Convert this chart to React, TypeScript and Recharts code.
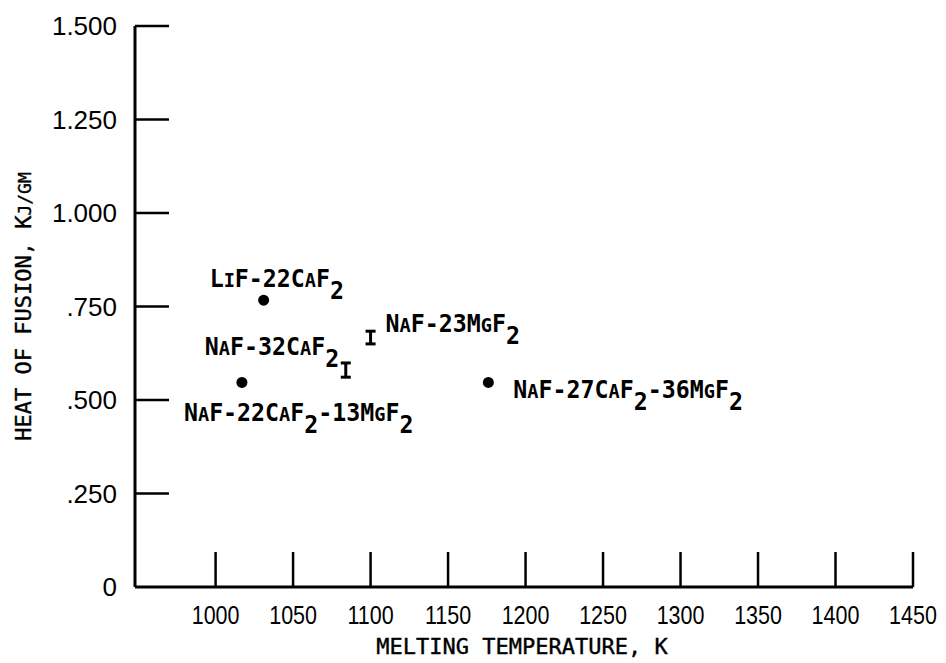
import { ScatterChart, Scatter, XAxis, YAxis, ErrorBar, Label } from "recharts";

const compositions = [
  "LiF-22CaF2",
  "NaF-22CaF2-13MgF2",
  "NaF-32CaF2",
  "NaF-23MgF2",
  "NaF-27CaF2-36MgF2",
];
const meltingTempK = [1031, 1017, 1084, 1100, 1176];
const heatOfFusion = [0.767, 0.547, 0.58, 0.667, 0.547];
const heatSpread = [0, 0, 0.019, 0.017, 0];
const markerKind = ["dot", "dot", "range", "range", "dot"];

const xTicks = [1000, 1050, 1100, 1150, 1200, 1250, 1300, 1350, 1400, 1450];
const yTicks = [0, 0.25, 0.5, 0.75, 1, 1.25, 1.5];
const yTickLabels = ["0", ".250", ".500", ".750", "1.000", "1.250", "1.500"];

// where each label sits relative to its marker (left edge, baseline)
const labelOffset: Record<string, [number, number]> = {
  "LiF-22CaF2": [-54, -13],
  "NaF-22CaF2-13MgF2": [-58, 39],
  "NaF-32CaF2": [-141, -15],
  "NaF-23MgF2": [15, -6],
  "NaF-27CaF2-36MgF2": [25, 16],
};

const points = compositions.map((name, i) => ({
  name,
  x: meltingTempK[i],
  y: heatOfFusion[i],
  err: heatSpread[i],
  kind: markerKind[i],
}));
const dotPoints = points.filter((p) => p.kind === "dot");
const rangePoints = points.filter((p) => p.kind === "range");

const MONO = "'DejaVu Sans Mono', 'Liberation Mono', monospace";
const SANS = "'Liberation Sans', Arial, sans-serif";

// lower case letters drawn as small caps, "2" after F drops to a subscript
function formulaSpans(s: string, small: number, drop: number) {
  const out: any[] = [];
  let down = false;
  for (let i = 0; i < s.length; i++) {
    const c = s[i];
    if (c === "2" && s[i - 1] === "F") {
      out.push(
        <tspan key={i} dy={drop}>
          2
        </tspan>
      );
      down = true;
      continue;
    }
    const lower = c !== c.toUpperCase();
    out.push(
      <tspan key={i} dy={down ? -drop : undefined} fontSize={lower ? small : undefined}>
        {c.toUpperCase()}
      </tspan>
    );
    down = false;
  }
  return out;
}

const FormulaLabel = ({ cx, cy, name }: any) => {
  const off = labelOffset[name] || [10, 0];
  return (
    <g transform={`translate(${cx + off[0]},${cy + off[1]}) scale(0.93,1)`}>
      <text x={0} y={0} fontFamily={MONO} fontSize={25} fontWeight="bold" fill="#000">
        {formulaSpans(name, 20, 12)}
      </text>
    </g>
  );
};

const DotShape = (props: any) => (
  <g>
    <circle cx={props.cx} cy={props.cy} r={5.5} fill="#000" />
    <FormulaLabel cx={props.cx} cy={props.cy} name={props.payload.name} />
  </g>
);

const RangeShape = (props: any) => (
  <FormulaLabel cx={props.cx} cy={props.cy} name={props.payload.name} />
);

const XTick = ({ x, y, payload }: any) => (
  <g>
    <line x1={x} y1={y} x2={x} y2={y - 35} stroke="#000" strokeWidth={2.5} />
    <g transform={`translate(${x},${y + 37}) scale(0.86,1)`}>
      <text x={0} y={0} textAnchor="middle" fontFamily={SANS} fontSize={25} fill="#000">
        {payload.value}
      </text>
    </g>
  </g>
);

const YTick = ({ x, y, payload, index }: any) => (
  <g>
    {payload.value !== 0 && (
      <line x1={x} y1={y} x2={x + 34} y2={y} stroke="#000" strokeWidth={2.5} />
    )}
    <text x={x - 18} y={y} dy="0.36em" textAnchor="end" fontFamily={SANS} fontSize={26} fill="#000">
      {yTickLabels[yTicks.indexOf(payload.value)] ?? yTickLabels[index]}
    </text>
  </g>
);

const XTitle = ({ viewBox }: any) => (
  <text
    x={viewBox.x + viewBox.width / 2 - 2}
    y={viewBox.y + 67}
    textAnchor="middle"
    fontFamily={MONO}
    fontSize={22}
    fill="#000"
    stroke="#000"
    strokeWidth={0.4}
  >
    MELTING TEMPERATURE, K
  </text>
);

const YTitle = ({ viewBox }: any) => {
  const cx = 31;
  const cy = viewBox.y + viewBox.height / 2;
  return (
    <text
      transform={`translate(${cx},${cy}) rotate(-90)`}
      textAnchor="middle"
      fontFamily={MONO}
      fontSize={22}
      fill="#000"
      stroke="#000"
      strokeWidth={0.4}
    >
      HEAT OF FUSION, K
      <tspan fontSize={18}>J/GM</tspan>
    </text>
  );
};

export default function App() {
  return (
    <div style={{ position: "absolute", left: 0, top: 0, width: 946, height: 663, background: "#fff" }}>
      <ScatterChart width={946} height={663} margin={{ top: 26, right: 33, bottom: 0, left: 0 }}>
        <XAxis
          type="number"
          dataKey="x"
          domain={[948, 1450]}
          ticks={xTicks}
          height={76}
          axisLine={{ stroke: "#000", strokeWidth: 3 }}
          tickLine={false}
          tickSize={0}
          tickMargin={0}
          tick={<XTick />}
          interval={0}
        >
          <Label content={<XTitle />} />
        </XAxis>
        <YAxis
          type="number"
          dataKey="y"
          domain={[0, 1.5]}
          ticks={yTicks}
          width={135}
          axisLine={{ stroke: "#000", strokeWidth: 3 }}
          tickLine={false}
          tickSize={0}
          tickMargin={0}
          tick={<YTick />}
          interval={0}
        >
          <Label content={<YTitle />} />
        </YAxis>
        <Scatter data={dotPoints} shape={<DotShape />} isAnimationActive={false} />
        <Scatter data={rangePoints} shape={<RangeShape />} isAnimationActive={false}>
          <ErrorBar dataKey="err" direction="y" width={5} stroke="#000" strokeWidth={3} isAnimationActive={false} />
        </Scatter>
      </ScatterChart>
    </div>
  );
}
